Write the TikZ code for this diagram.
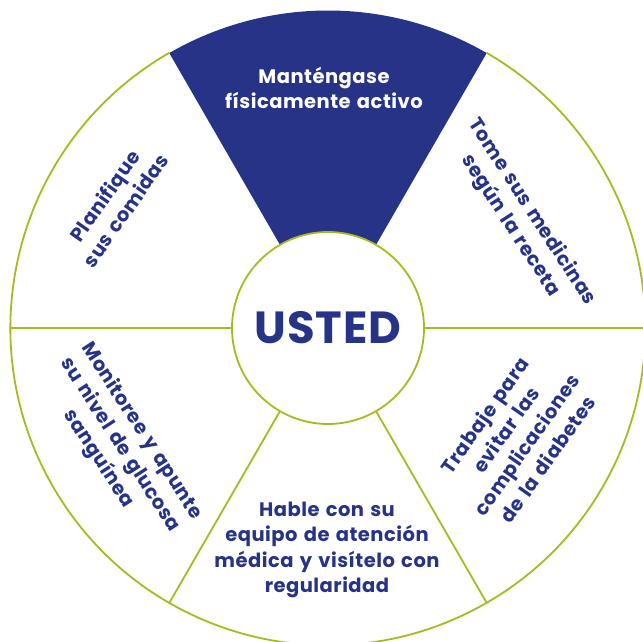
\documentclass[tikz,border=0pt]{standalone}
\usepackage{fontspec}
\setmainfont{Poppins}
\usepackage{tikz}
\definecolor{usblue}{rgb}{0.15,0.2,0.53}
\definecolor{usgreen}{rgb}{0.66,0.73,0.12}
\newcommand{\tipfont}{\bfseries\fontsize{19.5}{25.5}\selectfont\addfontfeature{LetterSpace=2.5}\spaceskip=0.32em\relax}
\tikzset{
  rim/.style={draw=usgreen,line width=1.8pt},
  tip/.style={align=center,text=usblue,inner sep=0pt,font=\tipfont}
}

\begin{document}
\begin{tikzpicture}[line cap=round,line join=round,x=1pt,y=1pt]
\useasboundingbox (-328,-314) rectangle (315,328);
\fill[color=usblue] (60:96) -- (60:317.5) arc[start angle=60,end angle=120,radius=317.5] -- (120:96) arc[start angle=120,end angle=60,radius=96] -- cycle;
\node[circle,inner sep=0pt,minimum size=635pt] (wheel) at (0,0) {};
\node[circle,rim,fill=white,inner sep=0pt,minimum size=192pt,text=usblue,
  font=\bfseries\fontsize{45}{45}\selectfont\addfontfeature{LetterSpace=2}] (usted) at (0,0) {USTED};
\draw[rim] (wheel.120) arc[start angle=120,end angle=420,radius=317.5];
\draw[rim] (usted.0) -- (wheel.0);
\draw[rim] (usted.180) -- (wheel.180);
\draw[rim] (usted.240) -- (wheel.240);
\draw[rim] (usted.300) -- (wheel.300);
\node[tip,text=white] (activo) at (-4,240) {Manténgase\\físicamente activo};
\node[tip,rotate=55] (comidas) at (-213,125) {Planifique\\sus comidas};
\node[tip,rotate=-57] (medicinas) at (193,109) {Tome sus medicinas\\según la receta};
\node[tip,rotate=-57] (glucosa) at (-208,-117) {Monitoree y apunte\\su nivel de glucosa\\sanguínea};
\node[tip,rotate=55] (diabetes) at (188,-109) {Trabaje para\\evitar las\\complicaciones\\de la diabetes};
\node[tip] (equipo) at (-1,-222) {Hable con su\\equipo de atención\\médica y visítelo con\\regularidad};
\end{tikzpicture}
\end{document}
